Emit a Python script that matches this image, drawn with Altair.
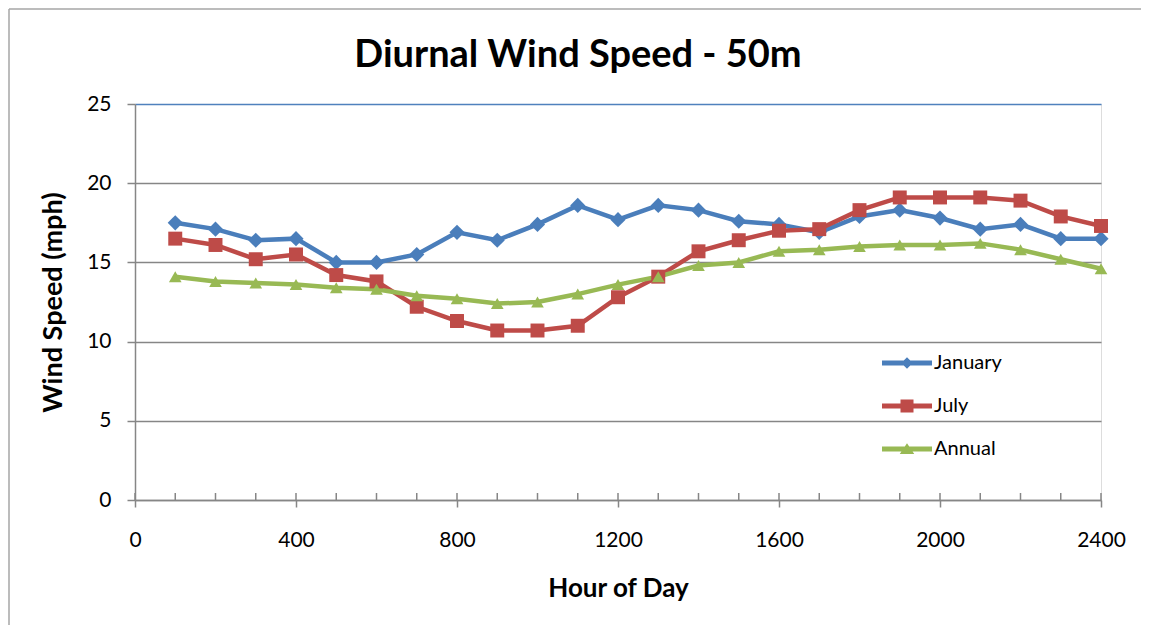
import altair as alt
import pandas as pd

HOURS = [100, 200, 300, 400, 500, 600, 700, 800, 900, 1000, 1100, 1200,
         1300, 1400, 1500, 1600, 1700, 1800, 1900, 2000, 2100, 2200, 2300, 2400]
JANUARY = [17.5, 17.1, 16.4, 16.5, 15.0, 15.0, 15.5, 16.9, 16.4, 17.4, 18.6, 17.7,
           18.6, 18.3, 17.6, 17.4, 16.9, 17.9, 18.3, 17.8, 17.1, 17.4, 16.5, 16.5]
JULY = [16.5, 16.1, 15.2, 15.5, 14.2, 13.8, 12.2, 11.3, 10.7, 10.7, 11.0, 12.8,
        14.1, 15.7, 16.4, 17.0, 17.1, 18.3, 19.1, 19.1, 19.1, 18.9, 17.9, 17.3]
ANNUAL = [14.1, 13.8, 13.7, 13.6, 13.4, 13.3, 12.9, 12.7, 12.4, 12.5, 13.0, 13.6,
          14.1, 14.8, 15.0, 15.7, 15.8, 16.0, 16.1, 16.1, 16.2, 15.8, 15.2, 14.6]

SERIES = ["January", "July", "Annual"]
COLORS = ["#4A7EBB", "#BE4B48", "#98B954"]
SHAPES = ["diamond", "square", "triangle-up"]
SIZES = [230, 160, 210]
X_TICKS = [0, 400, 800, 1200, 1600, 2000, 2400]
X_MINOR = [0, 100, 200, 300, 400, 500, 600, 700, 800, 900, 1000, 1100, 1200,
           1300, 1400, 1500, 1600, 1700, 1800, 1900, 2000, 2100, 2200, 2300, 2400]
Y_TICKS = [0, 5, 10, 15, 20, 25]

rows = []
for name, vals in zip(SERIES, [JANUARY, JULY, ANNUAL]):
    for h, v in zip(HOURS, vals):
        rows.append({"hour": h, "speed": v, "series": name})
df = pd.DataFrame(rows)

W, H = 966, 396
GRAY = "#868686"
FONT = "Lato"

xscale = alt.Scale(domain=[0, 2400], nice=False, zero=False)
yscale = alt.Scale(domain=[0, 25], nice=False)

xaxis = alt.Axis(values=X_TICKS, format="d", title="Hour of Day", grid=False, tickSize=7,
                 tickColor=GRAY, tickWidth=1.5, domainColor=GRAY, domainWidth=1.5,
                 labelPadding=22, labelFontSize=21, labelFont=FONT, labelColor="black",
                 titleFont=FONT, titleFontSize=26, titleFontWeight="bold",
                 titleColor="black", titlePadding=25, labelFlush=False)
yaxis = alt.Axis(values=Y_TICKS, title="Wind Speed (mph)", grid=True,
                 gridColor={"condition": {"test": "datum.value >= 25", "value": "#4F81BD"},
                            "value": GRAY},
                 gridWidth=1.5, tickSize=8, tickColor=GRAY, tickWidth=1.5,
                 domainColor=GRAY, domainWidth=1.5, labelPadding=16, labelFontSize=21,
                 labelFont=FONT, labelColor="black", titleFont=FONT, titleFontSize=27,
                 titleFontWeight="bold", titleColor="black", titlePadding=19)

# legend glyphs: a thick line segment with the series marker in the middle (unit coords)
BAR = "M-5,-0.5L5,-0.5L5,0.5L-5,0.5Z"
LEGEND_SHAPES = [
    BAR + "M0,-1.15L1.15,0L0,1.15L-1.15,0Z",
    BAR + "M-1.3,-1.3L1.3,-1.3L1.3,1.3L-1.3,1.3Z",
    BAR + "M0,-1.15L1.45,1.0L-1.45,1.0Z",
]

# chart-area border (left and top edges; the others fall outside the picture)
frame_data = alt.Data(values=[{"a": 1}])
frame_left = alt.Chart(frame_data).mark_rule(color="#A6A6A6", strokeWidth=1.5).encode(
    x=alt.value(-126), y=alt.value(-95), y2=alt.value(700))
frame_top = alt.Chart(frame_data).mark_rule(color="#A6A6A6", strokeWidth=1.5).encode(
    x=alt.value(-126), x2=alt.value(1100), y=alt.value(-95))

minor = alt.Chart(pd.DataFrame({"hour": X_MINOR})).mark_rule(
    color=GRAY, strokeWidth=1.5
).encode(x=alt.X("hour:Q", scale=xscale, axis=xaxis), y=alt.value(H - 7), y2=alt.value(H))

def cscale():
    return alt.Scale(domain=SERIES, range=COLORS)

lines = alt.Chart(df).mark_line(strokeWidth=4.5).encode(
    x=alt.X("hour:Q", scale=xscale, axis=xaxis),
    y=alt.Y("speed:Q", scale=yscale, axis=yaxis),
    color=alt.Color("series:N", scale=cscale(), legend=None),
)

points = alt.Chart(df).mark_point(filled=True, opacity=1).encode(
    x=alt.X("hour:Q", scale=xscale, axis=xaxis),
    y=alt.Y("speed:Q", scale=yscale, axis=yaxis),
    color=alt.Color("series:N", scale=cscale(), legend=None),
    shape=alt.Shape("series:N", scale=alt.Scale(domain=SERIES, range=SHAPES), legend=None),
    size=alt.Size("series:N", scale=alt.Scale(domain=SERIES, range=SIZES), legend=None),
)

legend = alt.Legend(
    title=None, orient="none", legendX=762, legendY=249, padding=0,
    symbolSize=100, labelOffset=17, rowPadding=23, symbolOpacity=1,
    symbolStrokeWidth=0,
    labelFont=FONT, labelFontSize=20, labelColor="black",
)

legend_layer = alt.Chart(df).transform_filter("false").mark_point(
    filled=True, opacity=1, size=100
).encode(
    x=alt.X("hour:Q", scale=xscale, axis=xaxis),
    y=alt.Y("speed:Q", scale=yscale, axis=yaxis),
    color=alt.Color("series:N", scale=cscale(), legend=legend),
    shape=alt.Shape("series:N", scale=alt.Scale(domain=SERIES, range=LEGEND_SHAPES),
                    legend=legend),
)

chart = alt.layer(frame_left, frame_top, minor, lines, points, legend_layer).resolve_scale(
    color="independent", shape="independent", size="independent"
).properties(
    width=W, height=H,
    autosize="none",
    padding={"left": 127, "top": 96, "right": 40, "bottom": 125},
    title=alt.TitleParams("Diurnal Wind Speed - 50m", font=FONT, fontSize=38,
                          fontWeight="bold", color="black", anchor="middle",
                          baseline="alphabetic", offset=-97, dx=-40),
).configure_view(stroke="#4F81BD", strokeWidth=1.5).configure(background="white")

chart.save("out.html", embed_options={"renderer": "svg", "actions": False})
